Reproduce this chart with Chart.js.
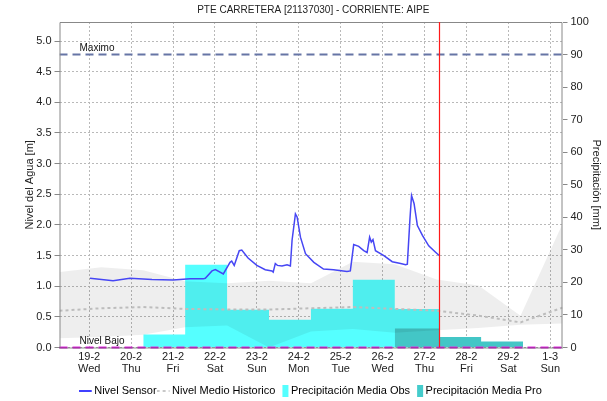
<!DOCTYPE html>
<html>
<head>
<meta charset="utf-8">
<title>PTE CARRETERA [21137030]</title>
<script src="https://cdn.jsdelivr.net/npm/chart.js"></script>
<style>
    body { margin: 0; background: #fff; }
    #wrap { width: 607px; height: 401px; }
</style>
</head>
<body>
<div id="wrap"><canvas id="nivelChart" width="607" height="401"></canvas></div>
<script>
// eje de tiempo en dias, 0 = 19-2 00:00
const dayLabels = ['19-2', '20-2', '21-2', '22-2', '23-2', '24-2', '25-2', '26-2', '27-2', '28-2', '29-2', '1-3'];
const dayNames = ['Wed', 'Thu', 'Fri', 'Sat', 'Sun', 'Mon', 'Tue', 'Wed', 'Thu', 'Fri', 'Sat', 'Sun'];
const xStart = -17 / 24;    // 18-2 07:00
const xEnd = 11 + 7 / 24;   // 1-3 07:00
const nowDay = 8.35;        // hora actual

const maximo = 4.78;
const nivelBajo = 0;
const nivelMax = maximo / 0.9;

// nivel sensor [m]
const sensorDays = [0.02, 0.57, 0.97, 1.5, 2.0, 2.41, 2.72, 2.77, 2.93, 3.01, 3.20, 3.36, 3.40, 3.46, 3.58, 3.64,
    3.79, 4.00, 4.20, 4.36, 4.39, 4.44, 4.49, 4.60, 4.72, 4.80, 4.84, 4.92, 4.96, 5.04, 5.16, 5.36, 5.59, 5.83,
    6.15, 6.23, 6.31, 6.43, 6.55, 6.63, 6.69, 6.73, 6.77, 6.83, 7.03, 7.23, 7.43, 7.55, 7.59, 7.65, 7.69, 7.75,
    7.83, 7.95, 8.10, 8.27, 8.35];
const sensorLevel = [1.13, 1.09, 1.13, 1.11, 1.10, 1.12, 1.12, 1.13, 1.25, 1.27, 1.20, 1.39, 1.41, 1.34, 1.58, 1.59,
    1.46, 1.34, 1.27, 1.25, 1.23, 1.37, 1.34, 1.33, 1.35, 1.33, 1.75, 2.18, 2.13, 1.80, 1.53, 1.39, 1.28, 1.27,
    1.24, 1.25, 1.68, 1.65, 1.58, 1.55, 1.80, 1.72, 1.76, 1.58, 1.50, 1.40, 1.37, 1.35, 1.36, 2.07, 2.48, 2.35,
    1.99, 1.83, 1.66, 1.55, 1.50];

// historico [m], valores a las 07:00
const histDays = [-0.708, 0.29, 1.29, 2.29, 3.29, 4.29, 5.29, 6.29, 7.29, 8.29, 9.29, 10.29, 11.292];
const histMax = [1.23, 1.31, 1.26, 1.08, 1.05, 1.09, 1.05, 1.40, 1.36, 1.11, 1.01, 0.52, 2.02];
const histMin = [0.15, 0.17, 0.21, 0.33, 0.36, 0.00, 0.26, 0.30, 0.24, 0.28, 0.32, 0.37, 0.39];
const histMean = [0.60, 0.64, 0.66, 0.63, 0.62, 0.62, 0.64, 0.66, 0.63, 0.60, 0.52, 0.41, 0.65];

// precipitacion [mm], inicio de cada periodo
const obsStart = [1.29, 2.29, 3.29, 4.29, 5.29, 6.29, 7.29];
const obsMm = [4.0, 25.4, 11.6, 8.5, 11.9, 20.8, 11.8];
const proStart = [7.29, 8.35, 9.35];
const proMm = [5.8, 3.2, 1.85];
const proEnd = 10.35;

const FONT = '"Liberation Sans", Arial, sans-serif';
Chart.defaults.font.family = FONT;
Chart.defaults.font.size = 11;
Chart.defaults.color = '#333';

const toPts = (xs, ys) => xs.map((x, i) => ({ x: x, y: ys[i] }));
const stepPts = (starts, vals, end) => toPts(starts, vals).concat([{ x: end, y: vals[vals.length - 1] }]);

// icono de leyenda: 16px, centrado 2px despues del inicio del item
function legendIcon(kind, color) {
    const c = document.createElement('canvas');
    c.width = 16;
    c.height = 12;
    const g = c.getContext('2d');
    if (kind === 'rect') {
        g.fillStyle = color;
        g.fillRect(7, 0, 6, 12);
    } else {
        g.strokeStyle = color;
        g.lineWidth = kind === 'dash' ? 2 : 1.5;
        if (kind === 'dash') g.setLineDash([3, 3]);
        g.beginPath();
        g.moveTo(0, 6);
        g.lineTo(13, 6);
        g.stroke();
    }
    return c;
}

// marco, linea de hora actual y etiquetas de umbrales
const framePlugin = {
    id: 'frame',
    afterDatasetsDraw(chart) {
        const { ctx, chartArea: a, scales } = chart;
        ctx.save();
        ctx.strokeStyle = '#888';
        ctx.lineWidth = 1;
        ctx.beginPath();
        ctx.moveTo(a.left + 0.5, a.bottom);
        ctx.lineTo(a.left + 0.5, a.top + 0.5);
        ctx.lineTo(a.right - 0.5, a.top + 0.5);
        ctx.lineTo(a.right - 0.5, a.bottom);
        ctx.stroke();
        ctx.strokeStyle = '#222';
        ctx.setLineDash([1, 1]);
        ctx.beginPath();
        ctx.moveTo(a.left, a.bottom + 0.5);
        ctx.lineTo(a.right, a.bottom + 0.5);
        ctx.stroke();
        ctx.setLineDash([]);

        const xn = Math.round(scales.x.getPixelForValue(nowDay)) + 0.5;
        ctx.strokeStyle = '#ff1a1a';
        ctx.lineWidth = 1.2;
        ctx.beginPath();
        ctx.moveTo(xn, a.top);
        ctx.lineTo(xn, a.bottom);
        ctx.stroke();

        ctx.fillStyle = '#111';
        ctx.font = '10px ' + FONT;
        ctx.textBaseline = 'bottom';
        ctx.fillText('Maximo', a.left + 20, scales.y.getPixelForValue(maximo) - 1);
        ctx.fillText('Nivel Bajo', a.left + 20, scales.y.getPixelForValue(nivelBajo) - 1);
        ctx.restore();
    }
};

new Chart(document.getElementById('nivelChart'), {
    type: 'line',
    data: {
        datasets: [
            {
                label: 'Nivel Sensor',
                data: toPts(sensorDays, sensorLevel),
                borderColor: '#4646f4',
                borderWidth: 1.5,
                pointRadius: 0,
                yAxisID: 'y',
                order: 0
            },
            {
                label: 'Maximo',
                data: [{ x: xStart, y: maximo }, { x: xEnd, y: maximo }],
                borderColor: '#6675a5',
                borderWidth: 2,
                borderDash: [8, 5],
                pointRadius: 0,
                yAxisID: 'y',
                order: 1
            },
            {
                label: 'Nivel Bajo',
                data: [{ x: xStart, y: nivelBajo }, { x: xEnd, y: nivelBajo }],
                borderColor: '#e02ee0',
                borderWidth: 2,
                borderDash: [8, 5],
                pointRadius: 0,
                clip: false,
                yAxisID: 'y',
                order: 1
            },
            {
                label: 'Nivel Medio Historico',
                data: toPts(histDays, histMean),
                borderColor: '#bdbdbd',
                borderWidth: 2,
                borderDash: [3, 3],
                pointRadius: 0,
                yAxisID: 'y',
                order: 2
            },
            {
                label: 'Max Historico',
                data: toPts(histDays, histMax),
                borderWidth: 0,
                pointRadius: 0,
                backgroundColor: 'rgba(0, 0, 0, 0.066)',
                fill: '+1',
                yAxisID: 'y',
                order: 3
            },
            {
                label: 'Min Historico',
                data: toPts(histDays, histMin),
                borderWidth: 0,
                pointRadius: 0,
                yAxisID: 'y',
                order: 3
            },
            {
                label: 'Precipitación Media Pro',
                data: stepPts(proStart, proMm, proEnd),
                stepped: true,
                fill: 'origin',
                backgroundColor: '#43c6c6',
                borderWidth: 0,
                pointRadius: 0,
                yAxisID: 'y1',
                order: 4
            },
            {
                label: 'Precipitación Media Obs',
                data: stepPts(obsStart, obsMm, nowDay),
                stepped: true,
                fill: 'origin',
                backgroundColor: '#55ffff',
                borderWidth: 0,
                pointRadius: 0,
                yAxisID: 'y1',
                order: 5
            }
        ]
    },
    options: {
        responsive: false,
        animation: false,
        layout: { padding: { left: 19.5, right: 0, top: 0, bottom: -5.5 } },
        plugins: {
            title: {
                display: true,
                text: 'PTE CARRETERA [21137030] - CORRIENTE: AIPE',
                color: '#222',
                font: { size: 10, weight: 'normal' },
                padding: { top: 4, bottom: 6 }
            },
            legend: {
                position: 'bottom',
                labels: {
                    usePointStyle: true,
                    boxWidth: 4,
                    boxHeight: 11,
                    padding: 6,
                    color: '#333',
                    font: { size: 11 },
                    generateLabels: () => [
                        { text: 'Nivel Sensor', pointStyle: legendIcon('line', '#0000ff'), datasetIndex: 0, lineWidth: 0, hidden: false },
                        { text: 'Nivel Medio Historico', pointStyle: legendIcon('dash', '#c8c8c8'), datasetIndex: 3, lineWidth: 0, hidden: false },
                        { text: 'Precipitación Media Obs', pointStyle: legendIcon('rect', '#55ffff'), datasetIndex: 7, lineWidth: 0, hidden: false },
                        { text: 'Precipitación Media Pro', pointStyle: legendIcon('rect', '#44cccc'), datasetIndex: 6, lineWidth: 0, hidden: false }
                    ]
                }
            },
            tooltip: { enabled: false }
        },
        scales: {
            x: {
                type: 'linear',
                min: xStart,
                max: xEnd,
                afterBuildTicks: (scale) => { scale.ticks = dayLabels.map((d, i) => ({ value: i })); },
                afterFit: (scale) => { scale.height = 32; },
                grid: { color: '#b9b9b9', drawTicks: false },
                border: { display: false, dash: [2, 2] },
                ticks: {
                    autoSkip: false,
                    maxRotation: 0,
                    padding: 3,
                    color: '#222',
                    font: { size: 11, lineHeight: 1.1 },
                    callback: (v) => [dayLabels[Math.round(v)], dayNames[Math.round(v)]]
                }
            },
            y: {
                position: 'left',
                min: 0,
                max: nivelMax,
                afterFit: (scale) => { scale.width = 40; },
                grid: { color: '#b9b9b9', tickColor: '#888', tickLength: 5 },
                border: { display: false, dash: [2, 2] },
                title: { display: true, text: 'Nivel del Agua [m]', color: '#222', font: { size: 11 } },
                ticks: {
                    stepSize: 0.5,
                    includeBounds: false,
                    padding: 3,
                    color: '#222',
                    callback: (v) => v.toFixed(1)
                }
            },
            y1: {
                position: 'right',
                min: 0,
                max: 100,
                afterFit: (scale) => { scale.width = 44.5; },
                grid: { drawOnChartArea: false, color: '#888', tickLength: 5 },
                border: { display: false },
                title: { display: true, text: 'Precipitación [mm]', color: '#222', font: { size: 11 } },
                ticks: { stepSize: 10, padding: 3, color: '#222' }
            }
        }
    },
    plugins: [framePlugin]
});
</script>
</body>
</html>
